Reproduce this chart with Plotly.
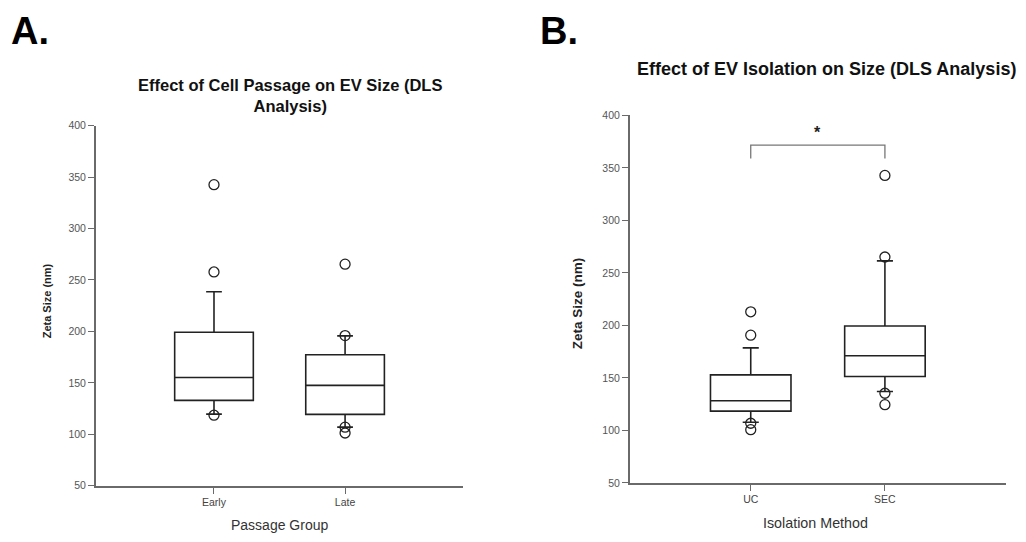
import plotly.graph_objects as go

# Panel A: EV size by cell passage
passage_groups = ["Early", "Late"]
passage_q1 = [133.0, 119.4]
passage_median = [155.2, 147.6]
passage_q3 = [199.2, 177.3]
passage_lower = [119.7, 107.0]
passage_upper = [238.5, 195.7]
passage_outlier_group = [0, 0, 0, 1, 1, 1, 1]
passage_outliers = [342.6, 257.8, 118.6, 265.4, 196.0, 107.0, 101.3]

# Panel B: EV size by isolation method
method_groups = ["UC", "SEC"]
method_q1 = [118.4, 151.3]
method_median = [128.3, 171.1]
method_q3 = [152.9, 199.4]
method_lower = [107.8, 137.0]
method_upper = [178.6, 261.5]
method_outlier_group = [0, 0, 0, 0, 1, 1, 1, 1]
method_outliers = [213.0, 190.7, 106.8, 100.7, 342.9, 265.2, 135.4, 124.5]

# Significance bracket between UC and SEC
bracket_top = 371.8
bracket_leg = 359.0
star_y = 384.0

FONT = "Liberation Sans, Arial, sans-serif"
BOX_LINE = "#222222"
AXIS_LINE = "#6a6a6a"

fig = go.Figure()


def add_panel(xa, ya, groups, q1, med, q3, lo, hi, og, ov):
    fig.add_trace(go.Box(
        x=list(range(len(groups))), q1=q1, median=med, q3=q3,
        lowerfence=lo, upperfence=hi,
        width=0.6, whiskerwidth=0.2, boxpoints=False,
        fillcolor="white", line=dict(color=BOX_LINE, width=1.6),
        xaxis=xa, yaxis=ya, showlegend=False, hoverinfo="skip",
    ))
    fig.add_trace(go.Scatter(
        x=og, y=ov, mode="markers",
        marker=dict(symbol="circle-open", size=10, color=BOX_LINE,
                    line=dict(width=1.3, color=BOX_LINE)),
        xaxis=xa, yaxis=ya, showlegend=False, hoverinfo="skip",
    ))


add_panel("x", "y", passage_groups, passage_q1, passage_median, passage_q3,
          passage_lower, passage_upper, passage_outlier_group, passage_outliers)
add_panel("x2", "y2", method_groups, method_q1, method_median, method_q3,
          method_lower, method_upper, method_outlier_group, method_outliers)

fig.add_trace(go.Scatter(
    x=[0, 0, 1, 1], y=[bracket_leg, bracket_top, bracket_top, bracket_leg],
    mode="lines", line=dict(color="#777777", width=1.3),
    xaxis="x2", yaxis="y2", showlegend=False, hoverinfo="skip",
))

axis_common = dict(
    showline=True, linecolor=AXIS_LINE, linewidth=2, showgrid=False,
    zeroline=False, ticks="outside", ticklen=6, tickcolor=AXIS_LINE,
    tickwidth=1.3, mirror=False, fixedrange=True,
)
yt = dict(family=FONT, size=10.5, color="#555555")
xt = dict(family=FONT, size=10.5, color="#444444")

fig.update_layout(
    width=1026, height=542,
    margin=dict(l=0, r=0, t=0, b=0),
    paper_bgcolor="white", plot_bgcolor="white",
    xaxis=dict(axis_common, domain=[0.0936, 0.4513], range=[-0.9, 1.9],
               tickvals=[0, 1], ticktext=passage_groups, anchor="y", tickfont=xt),
    yaxis=dict(axis_common, domain=[0.0947, 0.7743], range=[50, 400],
               tickvals=[50, 100, 150, 200, 250, 300, 350, 400], anchor="x",
               tickfont=yt),
    xaxis2=dict(axis_common, domain=[0.614, 0.9802], range=[-0.9, 1.9],
                tickvals=[0, 1], ticktext=method_groups, anchor="y2", tickfont=xt),
    yaxis2=dict(axis_common, domain=[0.1002, 0.7934], range=[50, 400],
                tickvals=[50, 100, 150, 200, 250, 300, 350, 400], anchor="x2",
                tickfont=yt),
)

ann = []
# Panel letters
ann.append(dict(text="<b>A.</b>", x=9, y=542 - 26, xanchor="left", yanchor="middle",
                font=dict(family=FONT, size=38, color="black")))
ann.append(dict(text="<b>B.</b>", x=538, y=542 - 26, xanchor="left", yanchor="middle",
                font=dict(family=FONT, size=38, color="black")))
# Panel titles
ann.append(dict(text="<b>Effect of Cell Passage on EV Size (DLS<br>Analysis)</b>",
                x=290, y=542 - 92, xanchor="center", yanchor="middle",
                font=dict(family=FONT, size=16.5, color="#111111")))
ann.append(dict(text="<b>Effect of EV Isolation on Size (DLS Analysis)</b>",
                x=826, y=542 - 64, xanchor="center", yanchor="middle",
                font=dict(family=FONT, size=18, color="#111111")))
# Axis titles
ann.append(dict(text="<b>Zeta Size (nm)</b>", x=47, y=542 - 302, textangle=-90,
                xanchor="center", yanchor="middle",
                font=dict(family=FONT, size=11, color="#222222")))
ann.append(dict(text="<b>Zeta Size (nm)</b>", x=577, y=542 - 304, textangle=-90,
                xanchor="center", yanchor="middle",
                font=dict(family=FONT, size=13.5, color="#222222")))
ann.append(dict(text="Passage Group", x=279, y=542 - 531, xanchor="center",
                yanchor="middle", font=dict(family=FONT, size=14, color="#333333")))
ann.append(dict(text="Isolation Method", x=815, y=542 - 529, xanchor="center",
                yanchor="middle", font=dict(family=FONT, size=14.3, color="#333333")))

for a in ann:
    a.update(xref="paper", yref="paper", showarrow=False)
    a["x"] = a["x"] / 1026
    a["y"] = a["y"] / 542

# Significance star
ann.append(dict(text="<b>*</b>", x=0.5, y=star_y, xref="x2", yref="y2",
                showarrow=False, xanchor="center", yanchor="middle",
                font=dict(family=FONT, size=16, color="#222222")))

fig.update_layout(annotations=ann)

fig.write_html("out.html")
